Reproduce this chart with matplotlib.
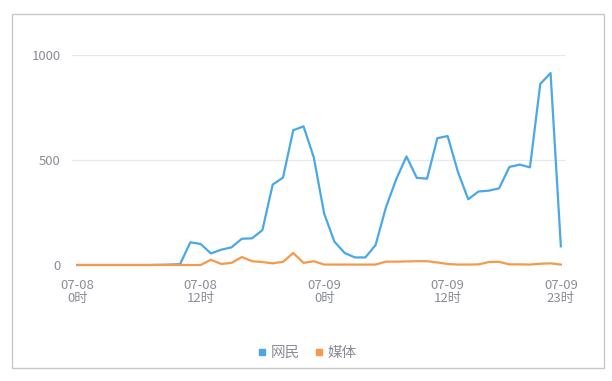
import matplotlib.pyplot as plt
from matplotlib.lines import Line2D
from matplotlib.patches import Rectangle

plt.rcParams['font.family'] = ['Noto Sans CJK SC', 'DejaVu Sans']

# --- data: hourly counts, 07-08 0时 .. 07-09 23时 ---
hours = list(range(48))
netizens = [0, 0, 0, 0, 0, 0, 0, 0, 1, 2, 4, 108, 100, 55, 73, 84,
            125, 127, 166, 383, 416, 642, 660, 511, 245, 111, 57, 36, 36, 95, 274, 408,
            517, 415, 411, 604, 614, 443, 313, 350, 354, 365, 467, 478, 465, 862, 914, 89]
media = [0, 0, 0, 0, 0, 0, 0, 0, 0, 0, 0, 0, 0, 25, 5, 10,
         38, 18, 14, 8, 15, 57, 10, 18, 2, 2, 2, 2, 2, 2, 16, 16,
         17, 18, 18, 12, 5, 2, 2, 3, 14, 15, 3, 3, 2, 6, 8, 2]
tick_pos = [0, 12, 24, 36, 47]
tick_labels = ['07-08\n0时', '07-08\n12时', '07-09\n0时', '07-09\n12时', '07-09\n23时']
series_names = ['网民', '媒体']

blue = '#4aa8e6'
orange = '#f39a4c'
text_grey = '#8a8c99'

fig = plt.figure(figsize=(6.12, 3.81), dpi=100)
fig.patches.append(Rectangle((12 / 612, 1 - 368 / 381), 592 / 612, 354 / 381,
                             transform=fig.transFigure, fill=False,
                             edgecolor='#c8c8c8', linewidth=1.0))

ax = fig.add_axes([72 / 612, 1 - 265 / 381, 494 / 612, 210 / 381])
ax.plot(hours, netizens, color=blue, linewidth=1.6, clip_on=False, zorder=3)
ax.plot(hours, media, color=orange, linewidth=1.6, clip_on=False, zorder=4)

ax.set_xlim(-0.5, 47.5)
ax.set_ylim(0, 1000)
ax.set_yticks([0, 500, 1000])
ax.set_xticks(tick_pos)
ax.set_xticklabels(tick_labels, linespacing=1.05)
ax.grid(axis='y', color='#e4e8f0', linewidth=0.9)
ax.set_axisbelow(True)
for s in ax.spines.values():
    s.set_visible(False)
ax.tick_params(axis='both', length=0, colors=text_grey, labelsize=9.5)
ax.tick_params(axis='y', pad=8)
ax.tick_params(axis='x', pad=10)

handles = [Line2D([], [], color=c, marker='s', linestyle='none', markersize=5)
           for c in (blue, orange)]
fig.legend(handles, series_names, loc='center', bbox_to_anchor=(0.5, 1 - 353 / 381),
           ncol=2, frameon=False, fontsize=10.5, labelcolor=text_grey,
           handletextpad=0.1, columnspacing=0.8, handlelength=1.0)

fig.savefig('out.png', dpi=100)
